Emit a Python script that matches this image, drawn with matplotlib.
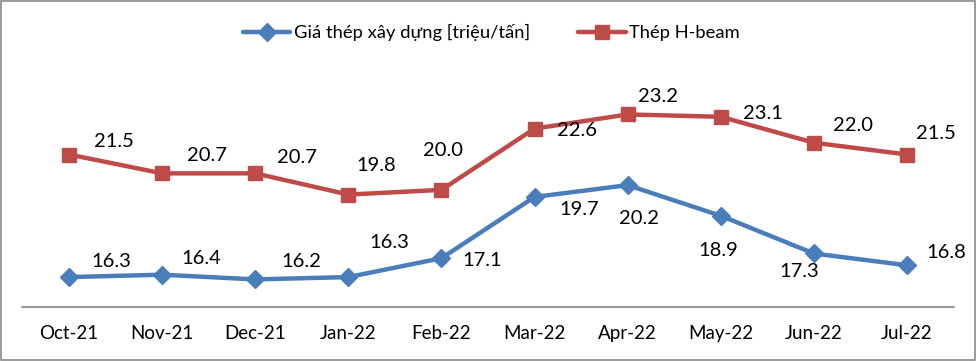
import matplotlib
matplotlib.use("Agg")
import matplotlib.pyplot as plt
from matplotlib.patches import Rectangle

months = ["Oct-21", "Nov-21", "Dec-21", "Jan-22", "Feb-22", "Mar-22", "Apr-22", "May-22", "Jun-22", "Jul-22"]
gia_thep = [16.3, 16.4, 16.2, 16.3, 17.1, 19.7, 20.2, 18.9, 17.3, 16.8]
h_beam = [21.5, 20.7, 20.7, 19.8, 20.0, 22.6, 23.2, 23.1, 22.0, 21.5]
series_names = ["Giá thép xây dựng [triệu/tấn]", "Thép H-beam"]

# label offsets (pixels, screen-down positive) for placement
blue_off = [(42, -16), (39, -16), (46, -18), (41, -35), (41, 2), (45, 13), (11, 33), (-3, 35), (-15, 18), (39, -13)]
red_off = [(45, -13), (45, -18), (42, -16), (28, -29), (2, -39), (42, 2), (30, -18), (42, -3), (39, -17), (29, -21)]

plt.rcParams['font.family'] = ['Lato', 'DejaVu Sans']

fig = plt.figure(figsize=(9.77, 3.61), dpi=100)
ax = fig.add_axes([0.023, 0.1496, 0.953, 0.6509])
x = list(range(len(months)))
blue = "#4A7EBB"
red = "#BE4B48"
ax.plot(x, gia_thep, color=blue, lw=3.2, marker="D", ms=9.5, label=series_names[0], solid_capstyle="round")
ax.plot(x, h_beam, color=red, lw=3.2, marker="s", ms=10.5, label=series_names[1], solid_capstyle="round")

for xi, v, o in zip(x, gia_thep, blue_off):
    ax.annotate(f"{v:.1f}", (xi, v), xytext=(o[0], -o[1]), textcoords="offset pixels",
                ha="center", va="center", fontsize=14.5, color="black")
for xi, v, o in zip(x, h_beam, red_off):
    ax.annotate(f"{v:.1f}", (xi, v), xytext=(o[0], -o[1]), textcoords="offset pixels",
                ha="center", va="center", fontsize=14.5, color="black")

ax.set_xlim(-0.5, len(months) - 0.5)
ax.set_ylim(15.03, 25)
ax.set_yticks([])
ax.set_xticks(x)
ax.set_xticklabels(months, fontsize=13.5)
ax.tick_params(axis="x", length=0, pad=13)
for s in ["top", "right", "left"]:
    ax.spines[s].set_visible(False)
ax.spines["bottom"].set_color("#878787")
ax.spines["bottom"].set_linewidth(1.2)

fig.legend(loc="center", bbox_to_anchor=(0.503, 0.91), ncol=2, frameon=False, fontsize=13.2,
           handlelength=2.6, columnspacing=2.6, handletextpad=0.2)

fig.patches.append(Rectangle((0.001, 0.003), 0.997, 0.994, transform=fig.transFigure, fill=False,
                             edgecolor="#8a8a8a", lw=1.2))
fig.savefig("out.png", dpi=100)
